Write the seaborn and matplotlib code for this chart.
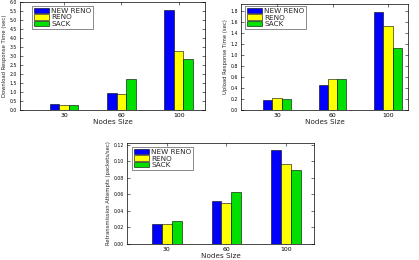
import matplotlib
matplotlib.use("Agg")
import matplotlib.pyplot as plt
import seaborn as sns
import pandas as pd

nodes = ["30", "60", "100"]
series = ["NEW RENO", "RENO", "SACK"]
colors = ["#0000FF", "#FFFF00", "#00E000"]

download_newreno = [0.31, 0.96, 5.58]
download_reno = [0.27, 0.91, 3.27]
download_sack = [0.27, 1.70, 2.81]

upload_newreno = [0.18, 0.45, 1.78]
upload_reno = [0.22, 0.56, 1.52]
upload_sack = [0.20, 0.56, 1.12]

retrans_newreno = [0.0245, 0.052, 0.113]
retrans_reno = [0.024, 0.0496, 0.0966]
retrans_sack = [0.0278, 0.063, 0.0893]

sns.set_theme(style="white")
plt.rcParams['font.family'] = ['DejaVu Sans']

W, H = 419, 260
fig = plt.figure(figsize=(W / 100, H / 100), dpi=100)


def make_df(a, b, c):
    rows = []
    for s, vals in zip(series, [a, b, c]):
        for n, v in zip(nodes, vals):
            rows.append({"Nodes": n, "Series": s, "Value": v})
    return pd.DataFrame(rows)


def panel(px, vals, ylabel, ylim, yticks, fmt, xlim, leg_anchor):
    l, r, t, b = px
    ax = fig.add_axes([l / W, (H - b) / H, (r - l) / W, (b - t) / H])
    df = make_df(*vals)
    sns.barplot(data=df, x="Nodes", y="Value", hue="Series", order=nodes,
                hue_order=series, palette=colors, width=0.5, gap=0,
                saturation=1, edgecolor="black", linewidth=0.4, ax=ax,
                errorbar=None)
    ax.set_ylim(*ylim)
    ax.set_xlim(*xlim)
    ax.set_yticks(yticks)
    ax.set_yticklabels([fmt.format(v) for v in yticks], fontsize=3.3)
    ax.tick_params(axis="x", labelsize=4.4, pad=2)
    ax.tick_params(direction="in", length=2, width=0.4, top=True, right=True,
                   left=True, bottom=True, colors="black")
    ax.tick_params(axis="y", pad=2)
    for sp in ax.spines.values():
        sp.set_linewidth(0.5)
        sp.set_color("black")
    ax.set_xlabel("Nodes Size", fontsize=5.2, labelpad=1)
    ax.set_ylabel(ylabel, fontsize=3.8, labelpad=2)
    leg = ax.legend(loc="upper left", bbox_to_anchor=leg_anchor,
                    fontsize=5.2, frameon=True,
                    fancybox=False, edgecolor="black", handlelength=2.1,
                    handleheight=0.75, labelspacing=0.05, borderpad=0.25,
                    handletextpad=0.3, borderaxespad=0.0)
    leg.get_frame().set_linewidth(0.4)
    return ax


panel((20, 205, 2, 110),
      (download_newreno, download_reno, download_sack),
      "Download Response Time (sec)", (0, 6.0),
      [i * 0.5 for i in range(13)], "{:.1f}", (-0.77, 2.46), (0.065, 0.963))
panel((241, 408, 4, 110),
      (upload_newreno, upload_reno, upload_sack),
      "Upload Response Time (sec)", (0, 1.92),
      [i * 0.2 for i in range(10)], "{:.1f}", (-0.65, 2.36), (0.024, 0.98))
panel((127, 314, 143, 244),
      (retrans_newreno, retrans_reno, retrans_sack),
      "Retransmission Attempts (packets/sec)", (0, 0.122),
      [i * 0.02 for i in range(7)], "{:.2f}", (-0.67, 2.47), (0.027, 0.96))

fig.savefig("out.png", dpi=100)
